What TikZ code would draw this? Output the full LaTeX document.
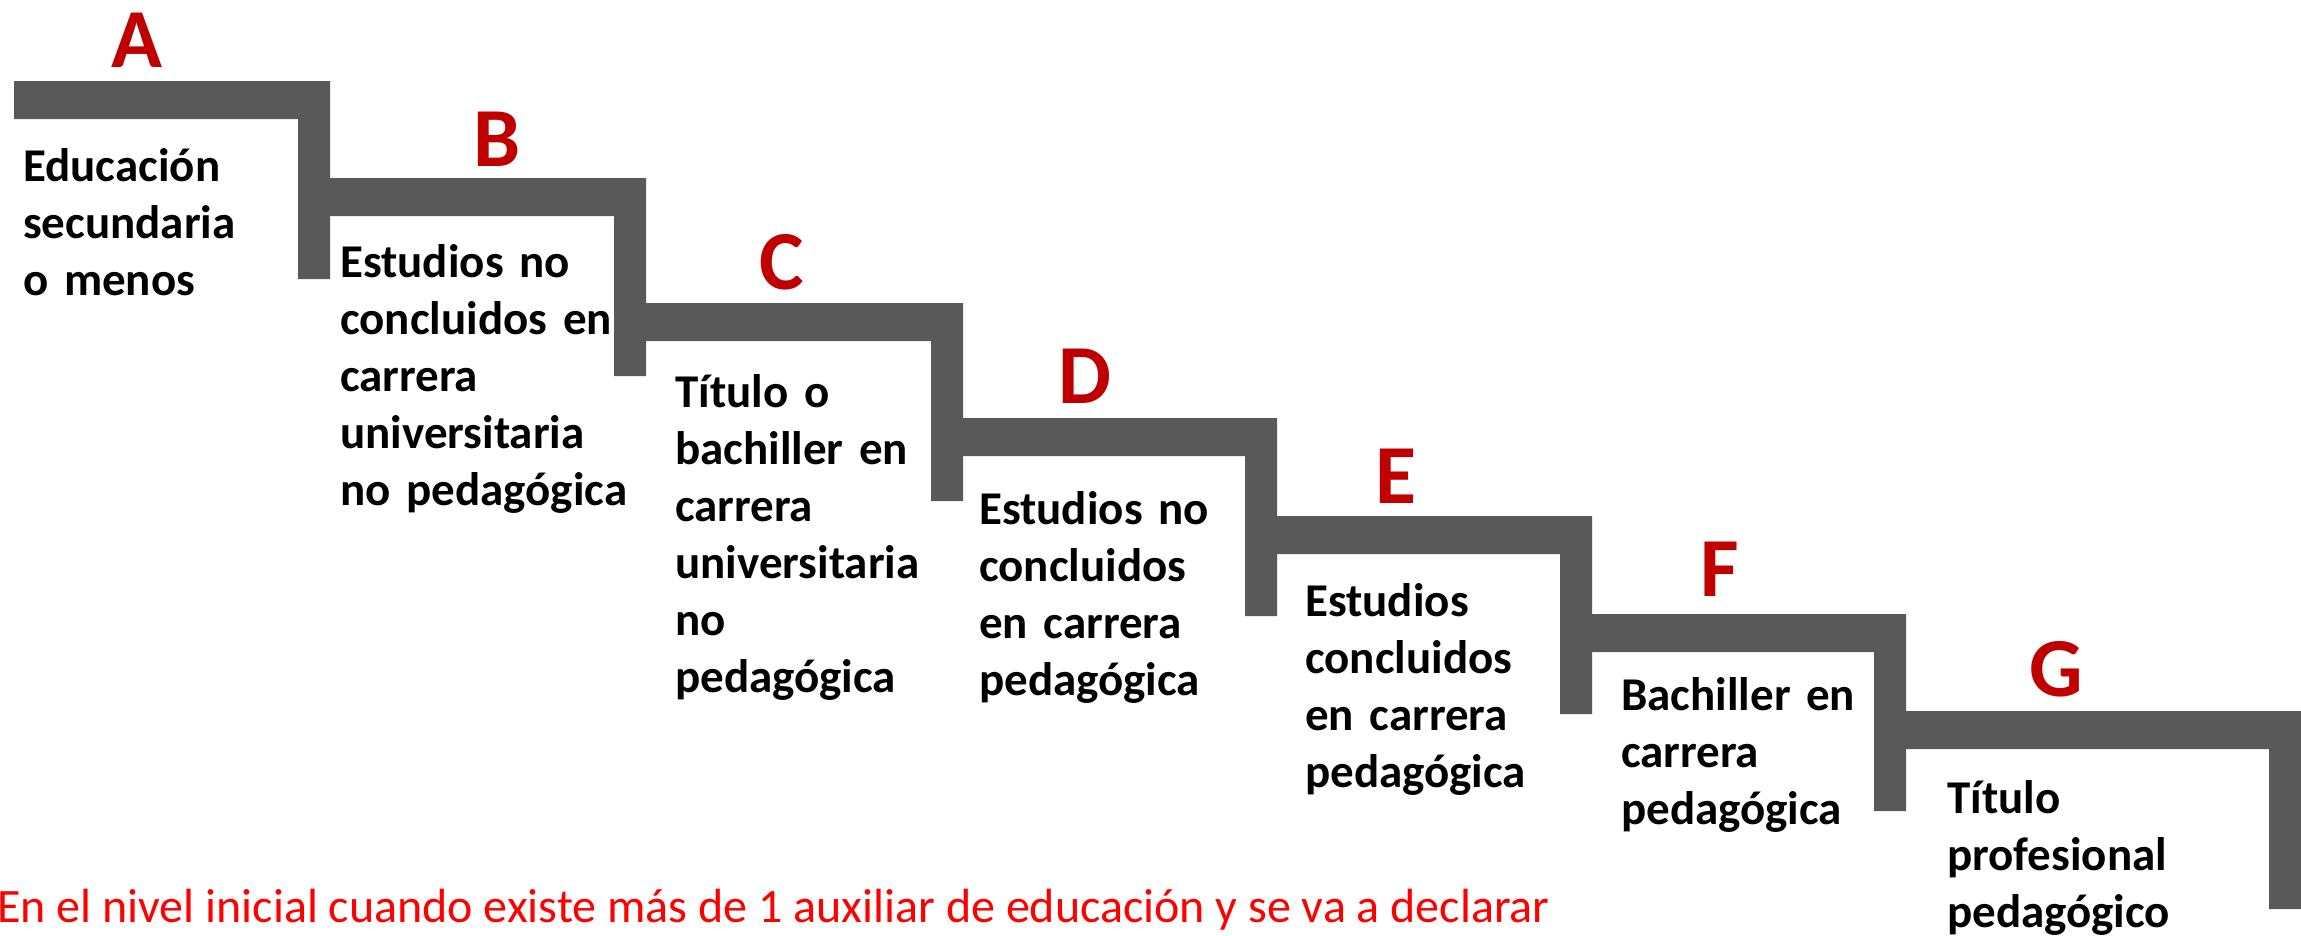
\documentclass[tikz,border=0pt]{standalone}
\usepackage{fontspec}
\setmainfont{Carlito}
\definecolor{stairgray}{HTML}{595959}
\definecolor{letterred}{HTML}{C00000}
\definecolor{notered}{HTML}{FF0000}
\tikzset{
  stair/.style={fill=stairgray, draw=none},
  steplabel/.style={anchor=base, inner sep=0pt, text=letterred, font=\fontsize{84}{100}\selectfont\bfseries},
  stepdesc/.style={anchor=base west, inner sep=0pt, text width=330pt, align=left, font=\fontsize{47}{57}\selectfont\bfseries},
  note/.style={anchor=base west, inner sep=0pt, text=notered, font=\fontsize{48}{58}\selectfont}
}
\newcommand{\stairstep}[4]{% left, right, top, vertical bottom
  \fill[stair] (#1,#3) -- (#2,#3) -- (#2,#4) -- ({#2-32},#4) -- ({#2-32},{#3+38}) -- (#1,{#3+38}) -- cycle;
}
\begin{document}
\begin{tikzpicture}[x=1pt,y=-1pt]
\useasboundingbox (0,0) rectangle (2301,935);
\fill[white] (0,0) rectangle (2301,935);
% stairs
\stairstep{14}{330}{81}{279}
\stairstep{330}{646}{178}{376}
\stairstep{646}{963}{303}{501}
\stairstep{963}{1277}{418}{616}
\stairstep{1277}{1592}{516}{714}
\stairstep{1592}{1906}{614}{811}
\stairstep{1906}{2301}{711}{909}
% letters
\node[steplabel] (la) at (137,67) {A};
\node[steplabel] (lb) at (497,166) {B};
\node[steplabel] (lc) at (782,289) {C};
\node[steplabel] (ld) at (1085,403) {D};
\node[steplabel] (le) at (1396,503) {E};
\node[steplabel] (lf) at (1720,596) {F};
\node[steplabel] (lg) at (2056,696) {G};
% descriptions
\node[stepdesc] (da) at (23,181) {Educación\\secundaria\\o menos};
\node[stepdesc] (db) at (340,277) {Estudios no\\concluidos en\\carrera\\universitaria\\no pedagógica};
\node[stepdesc] (dc) at (675,407) {Título o\\bachiller en\\carrera\\universitaria\\no\\pedagógica};
\node[stepdesc] (dd) at (979,524) {Estudios no\\concluidos\\en carrera\\pedagógica};
\node[stepdesc] (de) at (1305,616) {Estudios\\concluidos\\en carrera\\pedagógica};
\node[stepdesc] (df) at (1621,710) {Bachiller en\\carrera\\pedagógica};
\node[stepdesc] (dg) at (1947,813) {Título\\profesional\\pedagógico};
% note
\node[note] (nt) at (-3,922) {En el nivel inicial cuando existe más de 1 auxiliar de educación y se va a declarar};
\end{tikzpicture}
\end{document}
